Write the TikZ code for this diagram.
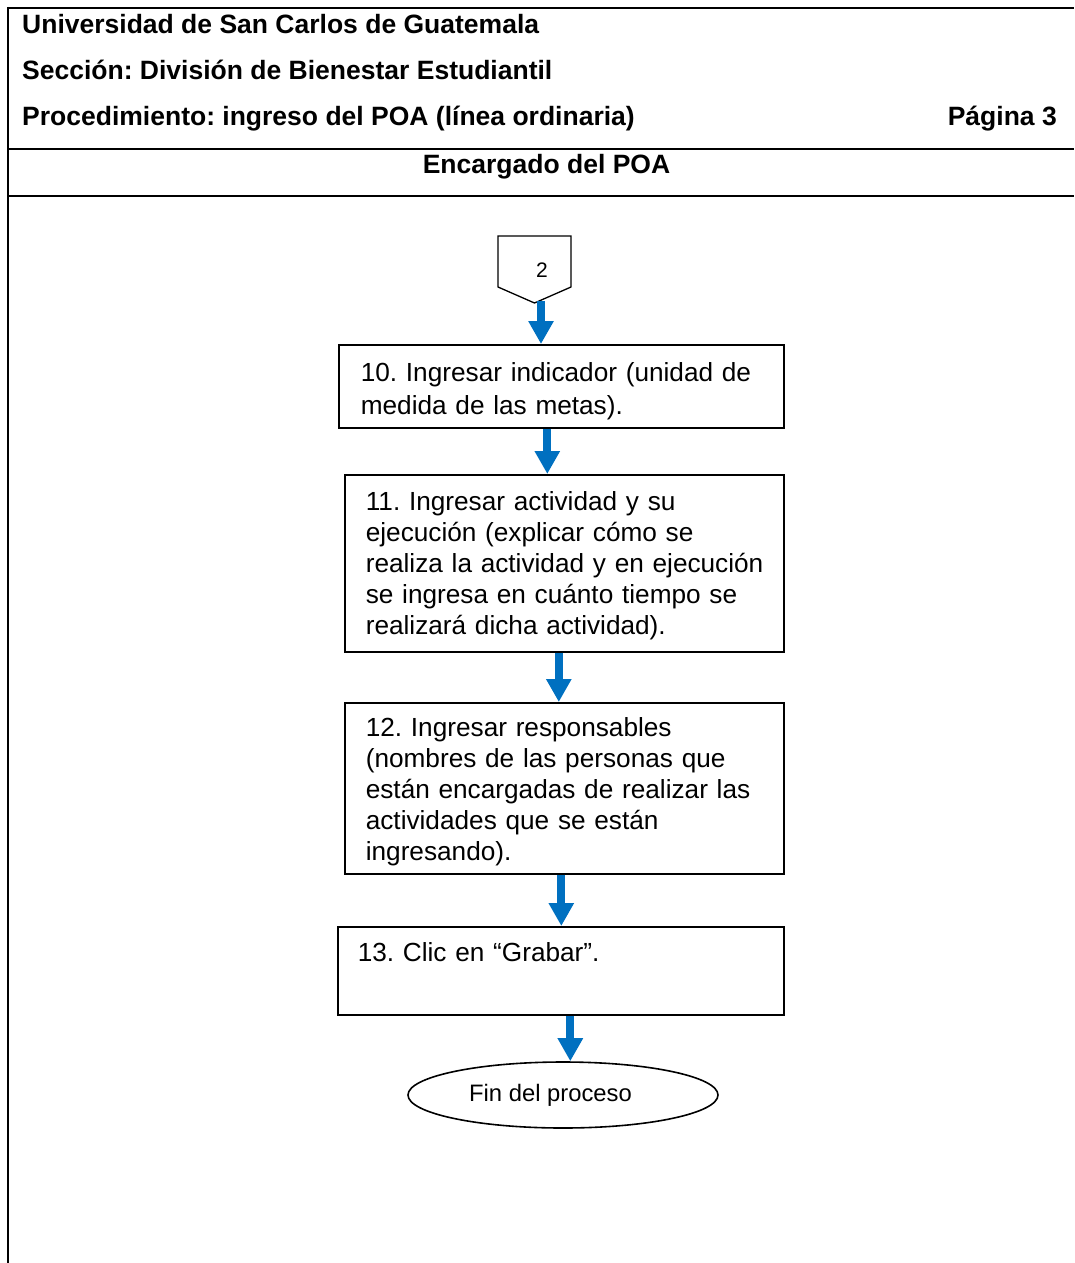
\documentclass[tikz,border=0pt]{standalone}
\usepackage{fontspec}
\setmainfont{Liberation Sans}
\usetikzlibrary{arrows.meta,shapes.geometric}
\definecolor{flowblue}{HTML}{0070C0}
\begin{document}
\frenchspacing
\hyphenpenalty=10000\relax
\exhyphenpenalty=10000\relax
\begin{tikzpicture}[x=1pt,y=-1pt,
  frame/.style={line width=2pt},
  hdr/.style={inner sep=0pt,font=\bfseries\fontsize{26.5}{31}\selectfont},
  stepbox/.style={draw,line width=1.6pt,anchor=north west,align=left,
    inner xsep=0pt,inner ysep=0pt,font=\fontsize{26.2}{31}\selectfont},
  endcap/.style={draw,ellipse,line width=1.6pt,inner sep=0pt,
    minimum width=310pt,minimum height=66pt,font=\fontsize{23.8}{28}\selectfont},
  flow/.style={draw=flowblue,line width=8pt,-{Triangle[width=24pt,length=23pt]}}]

\useasboundingbox (0,0) rectangle (1074,1263);

% table frame
\draw[frame] (7,8) -- (1074,8);
\draw[frame] (7,149) -- (1074,149);
\draw[frame] (7,196) -- (1074,196);
\draw[frame] (8,7) -- (8,1263);

% header texts
\node[hdr,anchor=base west] (uni) at (22,33.5) {Universidad de San Carlos de Guatemala};
\node[hdr,anchor=base west] (sec) at (22,79.5) {Sección: División de Bienestar Estudiantil};
\node[hdr,anchor=base west] (proc) at (22,125.5) {Procedimiento: ingreso del POA (línea ordinaria)};
\node[hdr,anchor=base east] (pag) at (1057,125.5) {Página 3};
\node[hdr,anchor=base] (enc) at (546.5,173) {Encargado del POA};

% off-page connector
\draw[line width=1.3pt,line join=miter] (498,236) -- (571,236) -- (571,287) -- (534.5,303) -- (498,287) -- cycle;
\node[font=\fontsize{21}{24}\selectfont,inner sep=0pt] (c2) at (542,270) {2};
\coordinate (c2tip) at (541,301);

% process steps (text width + leftskip put the text at a fixed inset;
% invisible struts fine-tune the vertical placement)
\node[stepbox,minimum width=445pt,minimum height=83pt,text width=423pt,
  font=\fontsize{26.2}{33}\selectfont] (b10) at (338,344)
  {\leftskip=11pt\relax\rule{0pt}{28pt}10. Ingresar indicador (unidad de\\medida de las metas).\par};
\node[stepbox,minimum width=439pt,minimum height=177pt,text width=418pt] (b11) at (344,474)
  {\leftskip=10.5pt\relax\rule{0pt}{24pt}11. Ingresar actividad y su\\ejecución (explicar cómo se\\realiza la actividad y en ejecución\\se ingresa en cuánto tiempo se\\realizará dicha actividad).\par};
\node[stepbox,minimum width=439pt,minimum height=171pt,text width=418pt] (b12) at (344,702)
  {\leftskip=10.5pt\relax\rule{0pt}{25pt}12. Ingresar responsables\\(nombres de las personas que\\están encargadas de realizar las\\actividades que se están\\ingresando).\par};
\node[stepbox,minimum width=446pt,minimum height=88pt,text width=426pt] (b13) at (337,926)
  {\leftskip=10pt\relax 13. Clic en “Grabar”.\\\rule[-6pt]{0pt}{0pt}\par};

% terminator
\node[endcap] (fin) at (563,1095) {Fin del proceso\hspace*{25pt}};

% flow arrows
\draw[flow] (c2tip) -- (c2tip |- b10.north);
\draw[flow] ([xshift=-14pt]b10.south) -- ([xshift=-14pt]b10.south |- b11.north);
\draw[flow] ([xshift=-5.5pt]b11.south) -- ([xshift=-5.5pt]b11.south |- b12.north);
\draw[flow] ([xshift=-3pt]b12.south) -- ([xshift=-3pt]b12.south |- b13.north);
\draw[flow] ([xshift=9.5pt]b13.south) -- ([xshift=9.5pt]b13.south |- fin.north);

\end{tikzpicture}
\end{document}
